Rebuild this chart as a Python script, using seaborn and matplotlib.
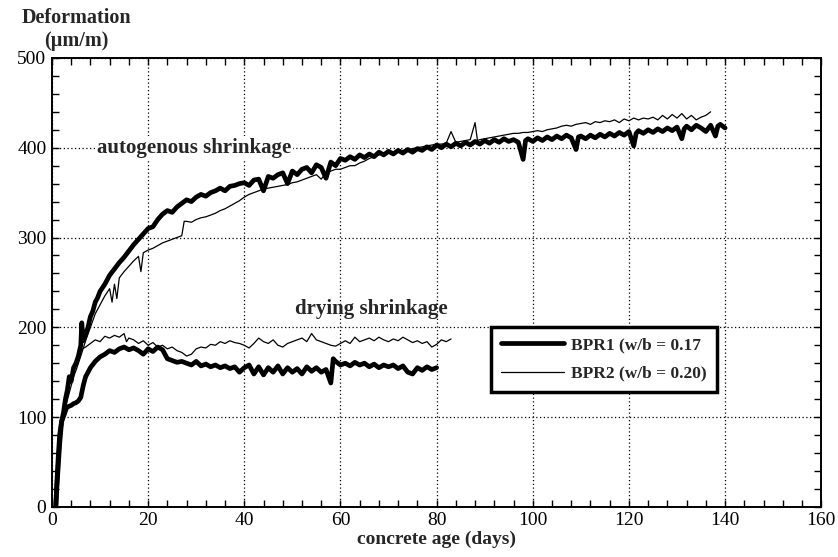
import matplotlib
matplotlib.use("Agg")
import matplotlib.pyplot as plt
import seaborn as sns
from matplotlib.ticker import MultipleLocator

# ---- datos (edad en dias, deformacion en um/m) ----
# BPR1 (w/b = 0.17) - retraccion autogena
bpr1_auto_dias = [0.8, 1.0, 1.3, 1.6, 2.0, 2.4, 2.8, 3.2, 3.6, 4.0,
                  4.5, 5.0, 5.5, 6.0, 6.2, 6.5, 7.0, 7.5, 8.0, 8.5,
                  9.0, 9.5, 10, 11, 12, 13, 14, 15, 16, 17,
                  18, 19, 20, 21, 22, 23, 24, 25, 26, 27,
                  28, 29, 30, 31, 32, 33, 34, 35, 36, 37,
                  38, 39, 40, 41, 42, 43, 44, 45, 46, 47,
                  48, 49, 50, 51, 52, 53, 54, 55, 56, 57,
                  58, 59, 60, 61, 62, 63, 64, 65, 66, 67,
                  68, 69, 70, 71, 72, 73, 74, 75, 76, 77,
                  78, 79, 80, 81, 82, 83, 84, 85, 86, 87,
                  88, 89, 90, 91, 92, 93, 94, 95, 96, 97,
                  98, 98.5, 99, 100, 101, 102, 103, 104, 105, 106,
                  107, 108, 109, 109.5, 110, 111, 112, 113, 114, 115,
                  116, 117, 118, 119, 120, 121, 121.5, 122, 123, 124,
                  125, 126, 127, 128, 129, 130, 131, 131.5, 132, 133,
                  134, 135, 136, 137, 138, 138.5, 139, 140]
bpr1_auto_def = [0, 20, 45, 70, 95, 105, 120, 130, 145, 140,
                 155, 160, 168, 180, 205, 185, 192, 200, 212, 218,
                 228, 233, 240, 248, 258, 265, 272, 278, 285, 292,
                 298, 304, 310, 312, 320, 326, 330, 328, 334, 338,
                 342, 340, 345, 348, 346, 350, 352, 355, 352, 357,
                 358, 360, 361, 358, 364, 365, 352, 368, 366, 370,
                 372, 360, 374, 370, 376, 378, 372, 381, 378, 366,
                 384, 380, 388, 386, 390, 387, 392, 389, 393, 390,
                 395, 392, 396, 393, 397, 394, 398, 395, 399, 397,
                 401, 398, 403, 400, 404, 401, 405, 402, 406, 403,
                 407, 404, 408, 405, 409, 406, 410, 407, 409, 406,
                 387, 408, 410, 407, 411, 408, 412, 409, 413, 410,
                 414, 411, 398, 412, 413, 410, 414, 411, 415, 412,
                 416, 413, 417, 414, 418, 402, 416, 419, 416, 420,
                 417, 421, 418, 422, 419, 423, 410, 421, 424, 420,
                 425, 422, 418, 425, 413, 424, 426, 422]

# BPR2 (w/b = 0.20) - retraccion autogena
bpr2_auto_dias = [0.8, 1.1, 1.5, 2.0, 2.5, 3.0, 3.5, 4.0, 4.5, 5.0,
                  6, 7, 8, 9, 10, 11, 12, 12.5, 13, 13.5,
                  14, 15, 16, 17, 18, 18.5, 19, 20, 21, 22,
                  23, 24, 25, 26, 27, 27.5, 28, 29, 30, 31,
                  32, 33, 34, 35, 36, 37, 38, 39, 40, 41,
                  42, 43, 44, 45, 46, 47, 48, 49, 50, 51,
                  52, 53, 54, 55, 56, 57, 58, 59, 60, 61,
                  62, 63, 64, 65, 66, 67, 68, 69, 70, 71,
                  72, 73, 74, 75, 76, 77, 78, 79, 80, 81,
                  82, 83, 84, 85, 86, 87, 88, 88.5, 89, 90,
                  91, 92, 93, 94, 95, 96, 97, 98, 99, 100,
                  101, 102, 103, 104, 105, 106, 107, 108, 109, 110,
                  111, 112, 113, 114, 115, 116, 117, 118, 119, 120,
                  121, 122, 123, 124, 125, 126, 127, 128, 129, 130,
                  131, 132, 133, 134, 135, 136, 137]
bpr2_auto_def = [0, 30, 60, 90, 100, 115, 125, 135, 145, 152,
                 168, 185, 200, 215, 225, 235, 243, 228, 248, 232,
                 255, 262, 268, 274, 279, 262, 283, 286, 288, 291,
                 294, 296, 298, 300, 302, 318, 318, 317, 320, 322,
                 323, 325, 327, 330, 332, 335, 338, 341, 345, 348,
                 350, 352, 354, 355, 356, 357, 358, 359, 361, 362,
                 364, 366, 368, 370, 365, 372, 374, 376, 376, 378,
                 380, 380, 383, 385, 388, 390, 392, 393, 394, 395,
                 396, 397, 398, 399, 400, 401, 402, 403, 404, 404,
                 405, 418, 406, 407, 408, 409, 428, 408, 409, 410,
                 411, 412, 413, 414, 415, 416, 416, 417, 417, 418,
                 419, 418, 420, 421, 422, 424, 425, 424, 426, 427,
                 428, 426, 429, 428, 430, 429, 431, 428, 432, 430,
                 433, 431, 433, 432, 434, 431, 436, 432, 437, 433,
                 438, 432, 436, 431, 434, 436, 440]

# BPR1 (w/b = 0.17) - retraccion por secado
bpr1_sec_dias = [0.8, 1.0, 1.3, 1.6, 2.0, 2.5, 3.0, 3.5, 4.0, 4.5,
                 5.0, 5.5, 6.0, 6.5, 7.0, 7.5, 8, 9, 10, 11,
                 12, 13, 14, 15, 16, 17, 18, 19, 20, 21,
                 22, 23, 24, 25, 26, 27, 28, 29, 30, 31,
                 32, 33, 34, 35, 36, 37, 38, 39, 40, 41,
                 42, 43, 44, 45, 46, 47, 48, 49, 50, 51,
                 52, 53, 54, 55, 56, 57, 58, 58.5, 59, 60,
                 61, 62, 63, 64, 65, 66, 67, 68, 69, 70,
                 71, 72, 73, 74, 75, 76, 77, 78, 79, 80]
bpr1_sec_def = [0, 25, 55, 80, 95, 102, 110, 112, 113, 115,
                116, 118, 122, 135, 145, 150, 155, 162, 167, 170,
                174, 172, 176, 178, 175, 177, 174, 170, 176, 173,
                178, 175, 165, 163, 161, 162, 160, 158, 162, 157,
                159, 156, 158, 155, 157, 154, 156, 150, 155, 158,
                148, 156, 147, 155, 150, 157, 148, 155, 150, 154,
                148, 156, 151, 155, 150, 153, 138, 165, 162, 158,
                160, 157, 161, 158, 160, 156, 159, 155, 158, 156,
                158, 154, 157, 150, 148, 155, 152, 156, 153, 155]

# BPR2 (w/b = 0.20) - retraccion por secado
bpr2_sec_dias = [0.8, 1.1, 1.4, 1.8, 2.2, 3.0, 3.5, 4.0, 5.0, 6.0,
                 7, 8, 9, 10, 11, 12, 13, 14, 15, 15.5,
                 16, 17, 18, 19, 20, 21, 22, 23, 24, 25,
                 26, 27, 28, 29, 30, 31, 32, 33, 34, 35,
                 36, 37, 38, 39, 40, 41, 42, 43, 44, 45,
                 46, 47, 48, 49, 50, 51, 52, 53, 54, 55,
                 56, 57, 58, 59, 60, 61, 62, 63, 64, 65,
                 66, 67, 68, 69, 70, 71, 72, 73, 74, 75,
                 76, 77, 78, 79, 80, 81, 82, 83]
bpr2_sec_def = [0, 30, 60, 85, 100, 122, 135, 142, 158, 175,
                178, 182, 186, 184, 190, 188, 191, 189, 193, 184,
                188, 186, 182, 185, 180, 183, 178, 180, 176, 178,
                174, 172, 168, 170, 176, 178, 177, 181, 180, 184,
                182, 185, 183, 182, 180, 177, 182, 188, 184, 182,
                186, 180, 178, 182, 184, 186, 188, 184, 193, 186,
                184, 182, 180, 179, 182, 185, 182, 189, 184, 186,
                188, 185, 189, 186, 184, 187, 185, 189, 186, 183,
                185, 182, 184, 178, 181, 186, 184, 187]

etiquetas = ["BPR1 (w/b = 0.17", "BPR2 (w/b = 0.20)"]

# ---- estilo ----
sns.set_theme(style="ticks")
plt.rcParams["font.family"] = ["Liberation Serif", "DejaVu Serif"]

fig = plt.figure(figsize=(8.38, 5.57), dpi=100)
ax = fig.add_axes([0.062, 0.090, 0.918, 0.806])

# ---- curvas ----
sns.lineplot(x=bpr1_auto_dias, y=bpr1_auto_def, ax=ax, color="black", linewidth=3.4,
             estimator=None, sort=False, label=etiquetas[0])
sns.lineplot(x=bpr2_auto_dias, y=bpr2_auto_def, ax=ax, color="black", linewidth=0.9,
             estimator=None, sort=False, label=etiquetas[1])
sns.lineplot(x=bpr1_sec_dias, y=bpr1_sec_def, ax=ax, color="black", linewidth=3.4,
             estimator=None, sort=False)
sns.lineplot(x=bpr2_sec_dias, y=bpr2_sec_def, ax=ax, color="black", linewidth=0.9,
             estimator=None, sort=False)

# ---- ejes ----
ax.set_xlim(0, 160)
ax.set_ylim(0, 500)
ax.xaxis.set_major_locator(MultipleLocator(20))
ax.xaxis.set_minor_locator(MultipleLocator(4))
ax.yaxis.set_major_locator(MultipleLocator(100))
ax.yaxis.set_minor_locator(MultipleLocator(20))
ax.tick_params(which="both", direction="in", top=True, right=True, length=5,
               width=1, color="black", labelsize=14, labelcolor="black", pad=4)
for sp in ax.spines.values():
    sp.set_linewidth(1.4)
    sp.set_color("black")
ax.grid(True, which="major", linestyle=(0, (1, 2)), color="black", linewidth=0.9)
ax.set_axisbelow(True)

ax.set_xlabel("concrete age (days)", fontsize=14, fontweight="bold", labelpad=1)
ax.set_ylabel("")
fig.text(0.026, 0.967, "Deformation", fontsize=14.5, fontweight="bold", ha="left", va="center")
fig.text(0.053, 0.926, "(\u00b5m/m)", fontsize=14.5, fontweight="bold", ha="left", va="center")

# ---- anotaciones ----
ax.text(9.4, 400, "autogenous shrinkage", fontsize=15, fontweight="bold", ha="left",
        va="center", bbox=dict(facecolor="white", edgecolor="none", pad=1))
ax.text(66.5, 220, "drying shrinkage", fontsize=15, fontweight="bold", ha="center",
        va="center")

leg = ax.legend(loc="upper left", bbox_to_anchor=(0.559, 0.42), frameon=True,
                fancybox=False, edgecolor="black", framealpha=1, handlelength=3.6,
                borderpad=0.6, labelspacing=0.7, handletextpad=0.4,
                prop={"weight": "bold", "size": 12.5})
leg.get_frame().set_linewidth(2.5)

plt.savefig("out.png", dpi=100)
